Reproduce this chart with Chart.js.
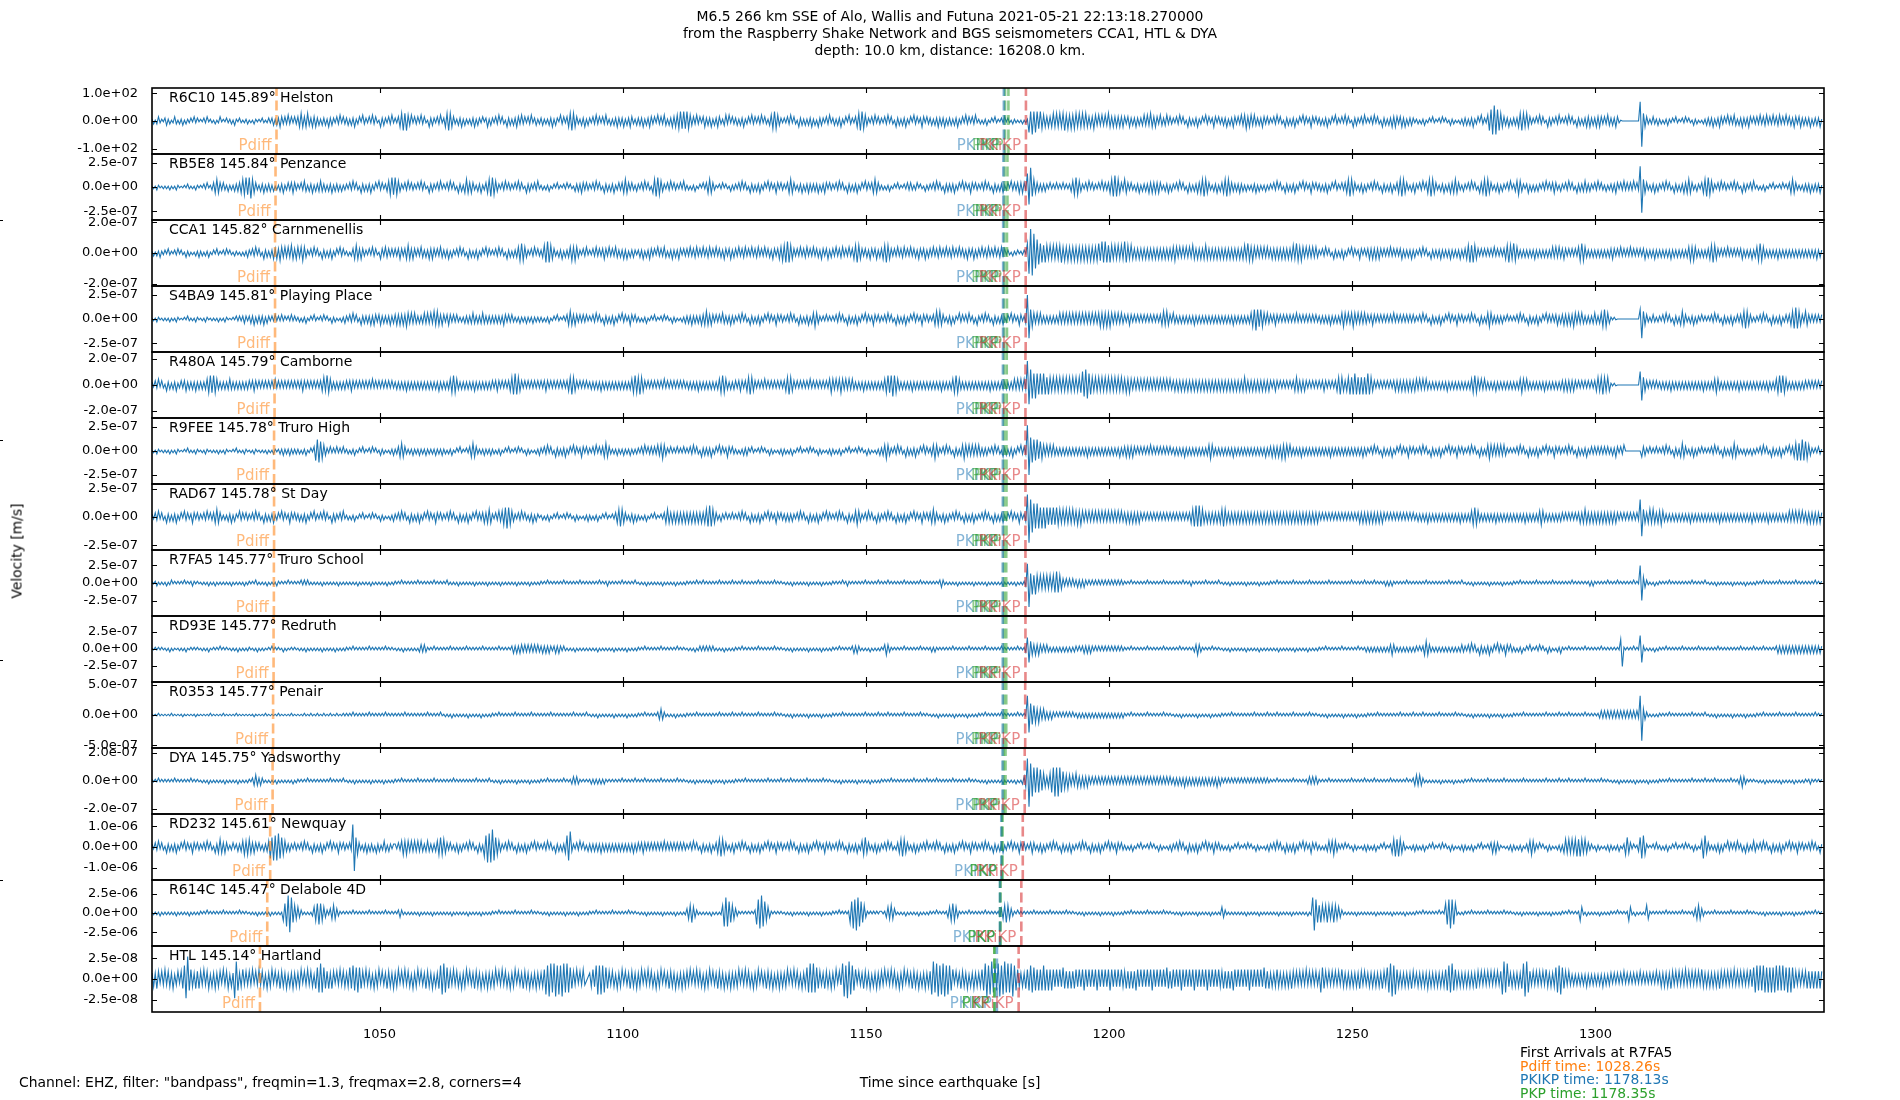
<!DOCTYPE html>
<html>
<head>
<meta charset="utf-8">
<script src="https://cdn.jsdelivr.net/npm/chart.js@4.4.1/dist/chart.umd.min.js"></script>
<style>
  html, body { margin:0; padding:0; background:#fff; }
  body { width:1900px; height:1100px; position:relative; overflow:hidden; font-family:'DejaVu Sans', sans-serif; color:#000; }
  #c { position:absolute; left:0; top:0; }
  .t { position:absolute; font-size:13.9px; line-height:17px; white-space:nowrap; }
</style>
</head>
<body>
<canvas id="c" width="1900" height="1100"></canvas>
<div class="t" style="left:0;top:8px;width:1900px;text-align:center;">M6.5 266 km SSE of Alo, Wallis and Futuna 2021-05-21 22:13:18.270000<br>from the Raspberry Shake Network and BGS seismometers CCA1, HTL &amp; DYA<br>depth: 10.0 km, distance: 16208.0 km.</div>
<div class="t" style="left:17px;top:551px;transform:translate(-50%,-50%) rotate(-90deg);transform-origin:center;">Velocity [m/s]</div>
<div class="t" style="left:19px;top:1074px;">Channel: EHZ, filter: "bandpass", freqmin=1.3, freqmax=2.8, corners=4</div>
<div class="t" style="left:950px;top:1074px;transform:translateX(-50%);">Time since earthquake [s]</div>
<div class="t" style="left:1520px;top:1046px;line-height:13.6px;">
  <span style="color:#000">First Arrivals at R7FA5</span><br>
  <span style="color:#ff7f0e">Pdiff time: 1028.26s</span><br>
  <span style="color:#1f77b4">PKIKP time: 1178.13s</span><br>
  <span style="color:#2ca02c">PKP time: 1178.35s</span>
</div>
<script>
// ---------------- data ----------------
const stations  = ['R6C10','RB5E8','CCA1','S4BA9','R480A','R9FEE','RAD67','R7FA5','RD93E','R0353','DYA','RD232','R614C','HTL'];
const distances = [145.89,145.84,145.82,145.81,145.79,145.78,145.78,145.77,145.77,145.77,145.75,145.61,145.47,145.14];
const places    = ['Helston','Penzance','Carnmenellis','Playing Place','Camborne','Truro High','St Day','Truro School','Redruth','Penair','Yadsworthy','Newquay','Delabole 4D','Hartland'];

// y-axis limits and tick values per panel
const yLimits   = [119, 3.41e-7, 2.16e-7, 3.4e-7, 2.54e-7, 3.44e-7, 2.9e-7, 4.7e-7, 4.85e-7, 5.45e-7, 2.36e-7, 1.6e-6, 4.3e-6, 4.0e-8];
const yTickVals = [100, 2.5e-7, 2.0e-7, 2.5e-7, 2.0e-7, 2.5e-7, 2.5e-7, 2.5e-7, 2.5e-7, 5.0e-7, 2.0e-7, 1.0e-6, 2.5e-6, 2.5e-8];

// x axis
const xTicks = [1050, 1100, 1150, 1200, 1250, 1300];
const xMin = 1003.2, xMax = 1347.0;
const sampleStart = 1003.2;   // trace start time [s]
const chunkSeconds = 10;      // each space-separated group covers 10 s
const chunkSamples = 30;      // half-cycle peaks per group

// amplitude code book: level (base-36 digit) -> fraction of the panel limit
const levelFractions = [0, 0.025, 0.055, 0.09, 0.13, 0.18, 0.23, 0.29, 0.35, 0.41, 0.47, 0.53, 0.58, 0.63, 0.68, 0.73, 0.78, 0.83, 0.88, 0.93];

// arrival times [s] per panel
const pdiffT  = [1028.8, 1028.6, 1028.5, 1028.5, 1028.4, 1028.3, 1028.3, 1028.26, 1028.2, 1028.1, 1028.0, 1027.5, 1026.9, 1025.4];
const pkikpT  = [1178.36, 1178.26, 1178.22, 1178.2, 1178.17, 1178.15, 1178.15, 1178.13, 1178.13, 1178.13, 1178.09, 1177.83, 1177.56, 1176.93];
const pkp1T   = [1178.6, 1178.5, 1178.45, 1178.4, 1178.4, 1178.38, 1178.37, 1178.35, 1178.35, 1178.35, 1178.3, 1178.0, 1177.6, 1176.4];
const pkp2T   = [1179.3, 1179.1, 1179.0, 1179.0, 1178.95, 1178.9, 1178.9, 1178.85, 1178.85, 1178.85, 1178.7, 1178.05, 1177.65, 1176.45];
const pkikpKT = [1182.9, 1182.85, 1182.85, 1182.85, 1182.8, 1182.8, 1182.8, 1182.8, 1182.8, 1182.75, 1182.65, 1182.25, 1181.95, 1181.4];

// half-cycle peak amplitude levels, 10 s per group
const trR6C10 = "231342213423124313241322314231 213241221312412132231421321223 121321213212323424354343534243 456545643545342434253432435243 342435234153324253421534324352 324567675452434253421534324352 356765432435242324352432413524 324352431534243543534243523423 342324352431534245676543243524 324353424353242435343524354324 343524354342534354243545567676 765443534245343524354324535243 342435234253424352432456765432 324352431534242435241534324352 342435234153324567765432435243 324352431534243523415342354243 342435343524342435234253424352 231324123142213241321322121312 287978767655454565656567565656 656565654546545454546545454545 434534353434545465454354345343 324352431534243523415342354243 343524354343545645545434354343 324352431534243523415342354243 342435234153324253421534324352 324352431534243545434535243432 231324123142213241321423121324 342435234153325789a98765443524 343567656543324253421534324352 324352431534243545343545434354 343542100000000000cg6543234324 231324223142213241321423121324 343524354342534354243534354243 435344534353445343534435434534 34352434352";
const trRB5E8 = "121321121213121321112132121321 213241234565434324232434456676 786543243524342413243523434543 324354243524345434243524342423 324352431534243523415342345676 765432435243324253421534324352 324352431534256545432435234567 765432435243324253421534324352 231324123142213241321434354343 324352431534243523434565434324 324352431567765432435243324253 231324123142456543213241321423 324352431534243523415342354243 324565432435243534343524354243 324352431534243523415342456543 231324123142213243432341321423 324352431534343523415342354243 324352431534243523415343454543 9bc765443434324232423242323456 765432435243324253434567876543 654343243524343545454543243524 324352431534243545676543243524 456765443435342423243524232423 324352431534243523415342354243 342435234153324345676543243524 324352431534243523456765432435 324352456765432435243545654324 324352431545676543243524324352 345654323524242432435243454324 324352431534345434324352432423 343542435343435243dg6543243524 324352431534243545654324324567 765432435243324253421534324352 231324123142213241324565432324 34352434352";
const trCCA1  = "231324223142213241321423121324 231324123142213241321322131324 324352431534243545465454546545 545654324352431534243523415342 231345654543324253421543544343 434543456545434354343545434354 343524324352431534243523415342 324352431534243456765432435243 346787654324352434565654324352 324353434543534354343535243432 343524354342534354243534354243 435344534353445343534435434534 435344534353445343534435434556 678765434353445343534435434534 435344534353456765434435434534 456765434353445343534435434534 435344534353445343534435434534 435344534353445342321322312231 7dfeca987767656565656756565656 565656565656567687876765656565 876565454545454545454545454545 565454545454654545456545454545 454545454545456576565454545454 454545454545456576565454545454 324352431534243523415342354243 454545454343435343434534343534 324352431534343534343534343534 456767654343434343534343456765 765434343434353434343434545454 454343434356765434343434343434 454343534343534343434534343534 343434353434343434565654343434 456765434343534343434534343534 567654343434353434343434343434 34343435343";
const trS4BA9 = "121321121213121321112132121321 121321121213121321112132323432 343524343524323242324231324232 231324123142213241321423121324 324352431534343535434534343534 454545465454543434545454656545 434543434323243434543434543434 343434354343432324232423242323 231324123142213245654543434342 324352431534243523415342354243 231324123142213241321423121324 343534343545654543434354343534 324352431534243523415342354243 324352431534243524565432324232 324352431534243523415342354243 324352431534243523415342354243 324565654324352431534243523415 324352431534243523415342354234 fc7654545434343434345454545454 545454545454545656565654545454 434543434343434343434345656543 543434343434353434343434343434 343434353434343434567876765454 434543434343434353434343434343 343434353434345654545654545454 434543434343434353434343434343 324352431534243523415342354243 324352431534245654343434324232 324352431534243523415343434534 454545465454543434345434567654 2121000000000000007c6543234323 324352431534256543243524324232 324352431534243523434567654323 324352431534243523434567876543 65434343434";
const trR480A = "324352431534243523434534343534 343456767654343434543434343434 434543434343434353434343434343 434543434343434565765434343434 434543434343434353434343434343 343434353434343434343434343534 343456765434343434353434343434 434543434345678765434343434343 434543434343434345676543434343 343434353434343434343434345676 676543434343434353434343434343 343434353434343434345676543434 434543456765434343534343434343 456765434343434353434343434356 545456545454543434353434343434 345676787654343434353434343434 343434353434345676543434343434 343434353434343434343454545454 fca989878787676565656565656565 656698a98765656565656565656565 565654545454545454545454545454 454545454545454545454545454545 454545454545456545454545454545 434543434343434565454543434343 434543434345676545676787676767 876543434343434345454545454545 545454543434343434353434343434 343456765454543434353434343434 343456545434343434353434343434 454545454343434343434565676565 2121000000000000009a6543434343 343434353434343434343434343534 343456543434343434353434343434 343434353434567676543434343434 43434343434";
const trR9FEE = "121321121213121321112132121321 121321121213121321112132121321 121321121213121321232423242323 231324123147887654324232423242 231324123142213241321423121324 234565432324232423242323242324 231324123142213245654323242324 231324123142213241321423121324 324352431534243523415342354243 324352434565432324232423242323 324352434343545654324232423242 324352431534343523415342354243 231324343142213241321423121324 231324123142213241321423121324 231324123142213241321423121324 345654324352431534243523415342 345654324352431534245654545454 543434324352431534243523415343 gf9887867654545454343434343434 343434353434343434343434343534 454545434343434353434343434343 343434353434343434343456543434 343434353434343434343434343534 454545465654543434353434343434 343434353434343434343434343534 324352431534243523415342354243 324352431534243523415342354243 324352431534245654545454543232 324352431534243523415342354243 324352431534243523434343434343 343542435000000000054432423242 324352431534256543243524324232 324352431534243565432324232423 324352431534243523415345676787 76543232432";
const trRAD67 = "324352431534243523415342354243 324352434565432324352431534243 324352431534243523415342354243 342435234153324253421534324352 231324123142213241321423121324 324352431534243523415342354243 324352431534243523415343454565 324354567876543243524324352431 231324123142213241321423121324 231324123142213245676543243524 231324123142213245654545454545 454545454545678765432432423242 324352431534243523415342354243 343434324352431534243523415342 324352431534245654324352431534 324352431534243523415342354243 456543243524324352431534243523 324352431534243523415342354234 egba98987878767676766565656565 565654545454545454545454545454 454545454543434343434343434343 434343434345678787654545454545 676545454545454545454545454545 454545454545454545454545454545 434343434343434343434343454545 454545454543434343434343434343 343434353434343434343434343534 343456765434343434353434343434 343434353434343456543434343434 434343434345456545454545454545 454543434343434343bc6545656545 565434343434343434353434343434 343434353434343434343434343534 343434353434343434345454545454 45454545454";
const trR7FA5 = "212312121312312121213121232121 121213121312121212131212121312 212132121213121213212121312121 213232321212121312121212131212 121212131212121312121212131212 212131212121213121212121312121 213212121312121212131212121312 121213121212121312121213121212 212131212121213121212121312121 212121312123212121213121212131 121213121212121312121213121212 212121312131212121213121212131 212131212121213121212121312121 121213121212121312121213121212 212121312321212121213121212131 212131212121213121212121312121 212121343212121213121212121312 121213121212121312121213121223 cf7868656565656567876543434343 343434323232323232323232323232 212131212121213121212121312121 212121312123212121213121212131 121213121212121312121213121212 212131212121213121212121312121 212121312121212121213121212131 212131212123232321212121312121 212121312121212121213121212131 121213121212121312121213121212 212131212121213121212121312121 212121312121212123232121212131 212131212121213121bb5432121312 212121312121212121213121212131 121213121212121312121213121212 212131212121213121212121312121 21212131212";
const trRD93E = "112121211213121112121311212121 121213112121312121121213121212 211213121211213121211312112121 121213121212121312121213121212 212131212121213121212121312121 121213121212121343432121312121 212131212121213121212121312121 212131212121343434434343434343 343434323434323212121312121212 121213121212121312121213121212 212131212121213121212121312121 121213123232323232121213121212 212131212121213121212121312121 121213121212121312121213121212 212131212121343432121213121212 214543212121213121212121312121 232321212121213121212121312121 212131212121213121212121312123 896545454343432323232323232323 323234343432323232323232323232 212131212121213121212121312121 212131212121234543212121312121 121213121212121312121213121212 121213121212121312121213121212 212131212121213121212121312123 232323232323234543232323232323 323235654323232323232323232343 324352431534243523415342354243 231324123142213241321423121324 212131212121213121212121312121 2121217b2121213121993212121312 212131212121213121212121312121 212121312121212121213121212131 212131212121343434343434343434 34343434343";
const trR0353 = "111121111111211111121111111211 111111211111112111111121111111 111211111121111111211111112111 111121112111211121112111211121 212131212121213121212121312121 212121312121212121213121212131 121213121212121312121213121212 212131212121213121212121312121 212121312121212121213121212131 121213121212121312121213121212 212131212121345432121213121212 212121312121212121213121212131 212131212121213121212121312121 121213121212121312121213121212 212121312121212121213121212131 212131212121213121212121312121 121213121212121312121213121212 212131212121213121212121312121 cb8776565454343432323232323232 232323232323232323232323232323 212131212121213121212121312121 121213121212121312121213121212 212121312121212121213121212131 212131212121213121212121312121 121213121212121312121213121212 212121312121212121213121212131 212131212121213121212121312121 121213121212121312121213121212 212121312121212121213121212131 212131212121213121212123434343 434343434343434343cg5432121212 212121312121212121213121212131 121213121212121312121213121212 212131212121213121212121312121 21212131212";
const trDYA   = "212131212121213121212121312121 121213121212121312121213121212 213454343212121213121212121312 212121312121212121213121212131 121213121212121312121213121212 212131212121213121212121312121 212121312121212121213121212131 121213121212121312121213121212 212131212121213121234343212121 232323232321212121213121212131 212131212121213121212121312121 121213121212121312121213121212 212121312121212121213121212131 212131212121213121212121312121 121213121212121312121213121212 212121312121212121213121212131 212131212121213121212121312121 121213121212121312121213121345 egba9898876545689a9a9876565454 654545454343434343434343434343 434343434343434343434343434343 343434353434343434343434343534 323232323232323232323232323232 212131212121213121212123434343 212121312121212121213121212131 212131212121213121212121312134 545432121212121312121213121212 212131212121213121212121312121 212121312121212121213121212131 212131212121213121212121312121 121213121212121312121213121212 212121312121212121213121212131 212131212121213121234543212121 121213121212121312121213121212 21232121212";
const trRD232 = "324352431534243523415342354243 324352431535654543234234345656 654543432434587989987654343243 324352431534243523415342354243 3243ef7643243524341534235424323 324356565454545454345434345676 654343243524324352431534278a9a b97654324352431534243523415342 324352431534243589a43243524324 343434353434343434343434343534 434543434343434353434343434343 324352431534243523456765432435 324352431534243523415342354243 324352431534243523415342354243 324352431534243523567543243524 324352431345676543243524324352 324352431534243523415342354243 324352431534243523415342354243 324543243524324352431534243523 324352431534243523415342354243 231324123142213241321423121324 324352431534243523415342354243 231324123142213241321423121324 324352431534243523415342354243 231324545654323241321423121324 231324123142213567676543121324 231324123142213241321423121324 231324123142213245454321121324 231324123456543241321423121324 256565656767656543321423121324 231324123675423124788631213242 231324123142213241321423125885 432324352431534243523415342354 324352431534243523415342354243 32435243153";
const trR614C = "121213121212121312121213121212 212131212121213121212121312121 121213121212131212121679bca765 543212121356787654324565432121 212131212121213121212121312121 213432121212121312121213121212 121213121212121312121213121212 212131212121213121212121312121 121213121212121312121213121212 212131212121213121212121312121 121213121212121312121213121212 456754321212121312121269a98765 432121212121389ab9865421212121 121213121212121312121213121212 2121312121278a9ba98764212121212 212455654212121312121213121212 212131212124567654212121312121 212131212121234567654321312121 212131212121213121212121312121 121213121212121312121213121212 212131212121213121212121312121 121213121212121312121213121212 543212121212121312121213121212 12121312121213121212121312ab97 676567656765543212121213121212 121213121212121312121213121212 212131212121213121789a98721212 212131212121213121212121312121 121213121212121312121213121212 212131212126521312121213121212 212131212126521312121265212121 212131212121213121212345654321 212131212121213121212121312121 121213121212121312121213121212 21212131212";
const trHTL   = "565764657566574564679ce8765767 657567465756647567465cb8567565 657465756647567465576657465756 56746575664789a987675764657566 568798898765756647567465576657 56746575664756746557665746579a a98765756647567465576657465756 567465756647567465576657465756 567a9ba9ab9a9ba9a98765746575 56769a9a9987656647567465576657 567465756647567465576657465756 657465756647567465576657465756 567465756647567465576657465756 5674657566475689a9a98765576657 567465ab9cba987465576657465756 657465756647567465576657465756 6ab9ab9aab9a987465576657465756 5678ab9ab9a8ab9ab9a9ab98765657 789988787898787876767687676767 767678767676787676767876767676 676767687676767678767676768767 767678767676787676767876767676 676767687676767678767676768767 565676565656576565656575656565 598765656565657656565656576565 56565656576589ab9a765656565765 5656565756565656567899a8765656 56565657656565656565656ab9a656 565657abb96565656565765656899a 876565454545454645454545464545 545454546454545454645454545464 565656576565656575656565657656 565656576565656575656565657689 989899898989989898898987656565 67676767676";

const traceStrings = [trR6C10, trRB5E8, trCCA1, trS4BA9, trR480A, trR9FEE, trRAD67, trR7FA5, trRD93E, trR0353, trDYA, trRD232, trR614C, trHTL];

// ---------------- build ----------------
function buildTrace(str, ymax) {
  const pts = [];
  str.trim().split(/\s+/).forEach((chunk, k) => {
    const step = chunkSeconds / Math.max(chunkSamples, chunk.length);
    for (let j = 0; j < chunk.length; j++) {
      const lvl = parseInt(chunk[j], 36);
      const sign = (j % 2 === 0) ? 1 : -1;
      pts.push({ x: sampleStart + chunkSeconds * k + step * j, y: sign * levelFractions[lvl] * ymax });
    }
  });
  return pts;
}
function fmtExp(v) {
  if (v === 0) return '0.0e+00';
  return v.toExponential(1).replace(/e([+-])(\d+)$/, (m, s, d) => 'e' + s + (d.length < 2 ? '0' + d : d));
}

const N = stations.length;
const phases = [
  { name: 'Pdiff', times: pdiffT,  color: 'rgba(255,127,14,0.55)' },
  { name: 'PKIKP', times: pkikpT,  color: 'rgba(31,119,180,0.55)' },
  { name: 'PKP',   times: pkp1T,   color: 'rgba(44,160,44,0.55)' },
  { name: 'PKP',   times: pkp2T,   color: 'rgba(44,160,44,0.55)' },
  { name: 'PKiKP', times: pkikpKT, color: 'rgba(214,39,40,0.55)' }
];

const datasets = [];
const scales = {
  x: {
    type: 'linear', position: 'bottom', min: xMin, max: xMax,
    grid: { display: false }, border: { display: false },
    ticks: { autoSkip: false, maxRotation: 0, padding: 7, color: '#000', font: { size: 13 }, callback: (v) => String(v) },
    afterBuildTicks: (s) => { s.ticks = xTicks.map(v => ({ value: v })); },
    afterFit: (s) => { s.height = 88; }
  }
};
for (let i = 0; i < N; i++) {
  const id = 'y' + i, ym = yLimits[i], tv = yTickVals[i];
  scales[id] = {
    type: 'linear', position: 'left', stack: 'traces', stackWeight: 1, weight: 100 - i,
    min: -ym, max: ym, offset: false,
    grid: { display: false }, border: { display: false },
    ticks: { autoSkip: false, padding: 6, color: '#000', font: { size: 13 }, callback: (v) => fmtExp(v) },
    afterBuildTicks: (s) => { s.ticks = [{ value: -tv }, { value: 0 }, { value: tv }]; },
    afterFit: (s) => { s.width = 152; }
  };
  datasets.push({
    label: stations[i], yAxisID: id, order: 2,
    data: buildTrace(traceStrings[i], ym),
    borderColor: '#1f77b4', borderWidth: 1.1, pointRadius: 0, tension: 0, fill: false
  });
  phases.forEach(p => {
    datasets.push({
      label: p.name, yAxisID: id, order: 1,
      data: [{ x: p.times[i], y: -ym }, { x: p.times[i], y: ym }],
      borderColor: p.color, borderWidth: 2.6, borderDash: [10, 4.5], pointRadius: 0, fill: false
    });
  });
}

const panelPlugin = {
  id: 'panels',
  afterDatasetsDraw(chart) {
    const ctx = chart.ctx, ca = chart.chartArea, xs = chart.scales.x;
    ctx.save();
    for (let i = 0; i < N; i++) {
      const s = chart.scales['y' + i];
      const top = s.top, bot = s.bottom;
      // arrival labels
      ctx.font = "15px 'DejaVu Sans'";
      ctx.textAlign = 'right'; ctx.textBaseline = 'bottom';
      phases.forEach(p => {
        ctx.fillStyle = p.color;
        ctx.fillText(p.name, xs.getPixelForValue(p.times[i]) - 5, bot);
      });
      // station label
      ctx.fillStyle = '#000'; ctx.textAlign = 'left'; ctx.textBaseline = 'alphabetic';
      ctx.font = "14px 'DejaVu Sans'";
      ctx.fillText(stations[i] + ' ' + distances[i].toFixed(2) + '\u00b0 ' + places[i], ca.left + 17, top + 13.5);
      // tick marks (inward)
      ctx.strokeStyle = '#000'; ctx.lineWidth = 1.1;
      ctx.beginPath();
      xTicks.forEach(v => {
        const px = Math.round(xs.getPixelForValue(v)) + 0.5;
        ctx.moveTo(px, top); ctx.lineTo(px, top + 5);
        ctx.moveTo(px, bot); ctx.lineTo(px, bot - 5);
      });
      s.ticks.forEach(t => {
        const py = Math.round(s.getPixelForValue(t.value)) + 0.5;
        ctx.moveTo(ca.left, py); ctx.lineTo(ca.left + 5, py);
        ctx.moveTo(ca.right, py); ctx.lineTo(ca.right - 5, py);
      });
      ctx.stroke();
      // frame
      ctx.lineWidth = 1.6;
      ctx.strokeRect(ca.left, top, ca.right - ca.left, bot - top);
    }
    // small ticks of the outer figure axis at the far left
    ctx.lineWidth = 1;
    ctx.beginPath();
    [220, 440, 660, 880].forEach(y => { ctx.moveTo(0, y + 0.5); ctx.lineTo(3, y + 0.5); });
    ctx.stroke();
    ctx.restore();
  }
};

Chart.defaults.font.family = "'DejaVu Sans'";
Chart.defaults.color = '#000';
new Chart(document.getElementById('c'), {
  type: 'line',
  data: { datasets },
  options: {
    responsive: false, maintainAspectRatio: false, animation: false, devicePixelRatio: 1,
    parsing: false, normalized: true,
    layout: { padding: { left: 0, right: 76, top: 88, bottom: 0 } },
    plugins: { legend: { display: false }, tooltip: { enabled: false }, title: { display: false } },
    scales
  },
  plugins: [panelPlugin]
});
</script>
</body>
</html>
